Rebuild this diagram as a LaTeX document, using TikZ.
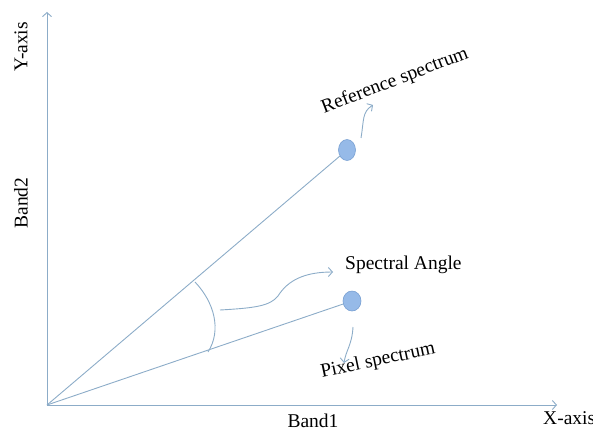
\documentclass[tikz,border=0pt]{standalone}
\usepackage{fontspec}
\setmainfont{Liberation Serif}
\usetikzlibrary{arrows.meta,shapes.geometric}
\definecolor{lineblue}{RGB}{140,172,200}
\definecolor{dotfill}{RGB}{150,186,232}
\definecolor{dotedge}{RGB}{120,160,210}
\tikzset{
  ln/.style={draw=lineblue, line width=0.9pt},
  arr/.style={ln, -{Straight Barb[length=4pt,width=9pt]}},
  dot/.style={ellipse, fill=dotfill, draw=dotedge, line width=0.6pt, minimum width=17pt, minimum height=21pt, inner sep=0pt},
  lbl/.style={font=\fontsize{19.5}{22}\selectfont, text=black, inner sep=0pt}
}
\begin{document}
\begin{tikzpicture}[x=1pt,y=-1pt]
\useasboundingbox (0,0) rectangle (593,433);
\coordinate (O) at (47,405);
\coordinate (Ytop) at (47,12);
\coordinate (Xend) at (557,405);
\draw[arr] (O) -- (Ytop);
\draw[arr] (O) -- (Xend);
\node[dot] (ref) at (347,150) {};
\node[dot, minimum width=18pt, minimum height=20pt] (pix) at (352,301) {};
\draw[ln] (O) -- (ref);
\draw[ln] (O) -- (pix);
\coordinate (a1) at (195,282);
\coordinate (a2) at (208,352);
\draw[ln] (a1) .. controls (214,302) and (222,330) .. (a2);
\node[lbl, anchor=base west] (sa) at (345,269) {Spectral Angle};
\coordinate (sastart) at (220,310);
\coordinate (satip) at (333,272);
\draw[arr] (sastart) .. controls (255,308) and (270,306) .. (278,296) .. controls (288,280) and (305,272) .. (satip);
\node[lbl, rotate=21] (rs) at (395,81) {Reference spectrum};
\coordinate (rsstart) at (361,138);
\coordinate (rstip) at (373,105);
\draw[arr] (rsstart) .. controls (364,120) and (362,112) .. (rstip);
\node[lbl, rotate=12] (ps) at (378,361) {Pixel spectrum};
\coordinate (psstart) at (353,327);
\coordinate (pstip) at (344,363);
\draw[arr] (psstart) .. controls (352,345) and (346,350) .. (pstip);
\node[lbl, anchor=base] (b1) at (313,427) {Band1};
\node[lbl, anchor=base west] (xa) at (543,424) {X-axis};
\node[lbl, rotate=90] (b2) at (21,203) {Band2};
\node[lbl, rotate=90] (ya) at (21,47) {Y-axis};
\end{tikzpicture}
\end{document}
